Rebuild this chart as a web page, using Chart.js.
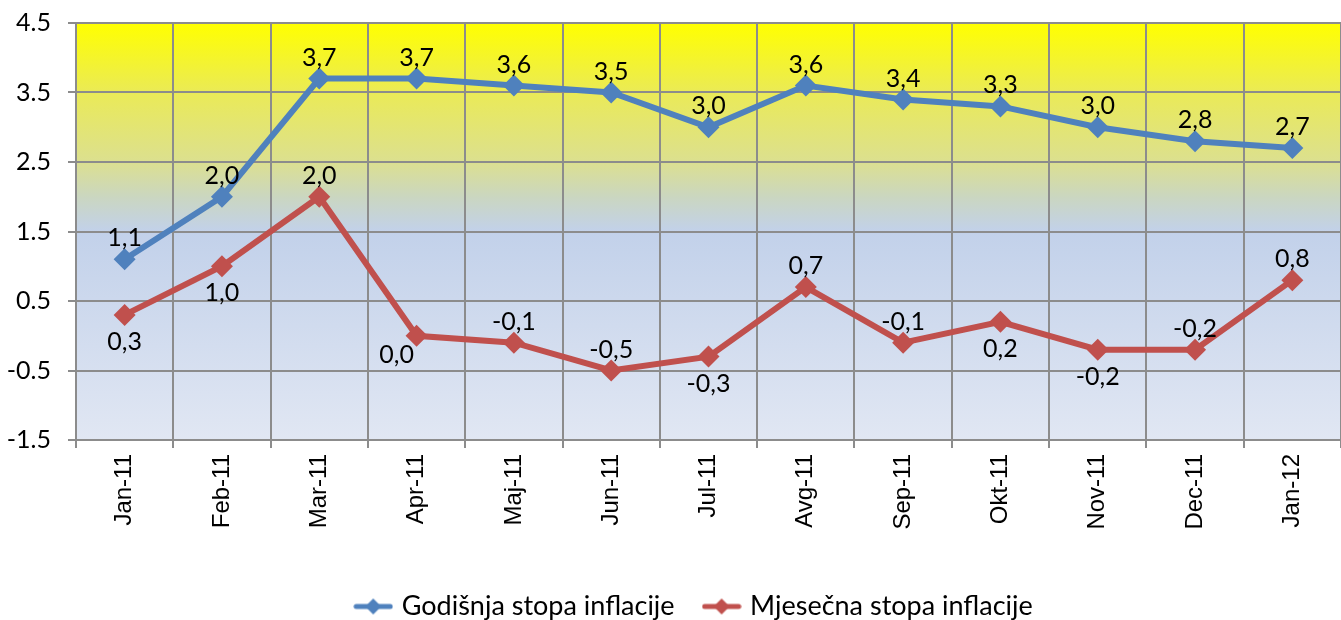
<!DOCTYPE html>
<html>
<head>
<meta charset="utf-8">
<script src="https://cdn.jsdelivr.net/npm/chart.js@4"></script>
<style>
  html, body { margin: 0; padding: 0; background: #fff; }
  #wrap { width: 1341px; height: 620px; }
</style>
</head>
<body>
<div id="wrap"><canvas id="inflacija"></canvas></div>
<script>
// podaci
const months = ["Jan-11", "Feb-11", "Mar-11", "Apr-11", "Maj-11", "Jun-11", "Jul-11",
  "Avg-11", "Sep-11", "Okt-11", "Nov-11", "Dec-11", "Jan-12"];
const godisnja = [1.1, 2.0, 3.7, 3.7, 3.6, 3.5, 3.0, 3.6, 3.4, 3.3, 3.0, 2.8, 2.7];
const mjesecna = [0.3, 1.0, 2.0, 0.0, -0.1, -0.5, -0.3, 0.7, -0.1, 0.2, -0.2, -0.2, 0.8];
const yTicks = [-1.5, -0.5, 0.5, 1.5, 2.5, 3.5, 4.5];

// gdje stoje oznake vrijednosti
const godisnjaPos = months.map(() => "above");
const mjesecnaPos = ["below", "below", "above", "left", "above", "above", "below",
  "above", "above", "below", "below", "above", "above"];

const BLUE = "#4F81BD";
const RED = "#C0504D";
const calibriLike = "Lato, 'Open Sans', sans-serif";

// ikonica za legendu: linija + romb
function legendIcon(color) {
  const c = document.createElement("canvas");
  c.width = 40; c.height = 18;
  const g = c.getContext("2d");
  g.strokeStyle = color;
  g.lineWidth = 5;
  g.lineCap = "round";
  g.beginPath(); g.moveTo(3, 9); g.lineTo(37, 9); g.stroke();
  g.fillStyle = color;
  g.beginPath(); g.moveTo(20, 1); g.lineTo(28, 9); g.lineTo(20, 17); g.lineTo(12, 9); g.closePath(); g.fill();
  return c;
}

// pozadina s prelazom (žuto -> plavo)
const bgPlugin = {
  id: "bgGradient",
  beforeDraw(chart) {
    const { ctx, chartArea: a } = chart;
    const grd = ctx.createLinearGradient(0, a.top, 0, a.bottom);
    grd.addColorStop(0, "#FFFF00");
    grd.addColorStop(0.17, "#EAEA58");
    grd.addColorStop(0.33, "#DCE08E");
    grd.addColorStop(0.42, "#CAD6C2");
    grd.addColorStop(0.5, "#C2D1EA");
    grd.addColorStop(1, "#E1E7F3");
    ctx.save();
    ctx.fillStyle = grd;
    ctx.fillRect(a.left, a.top, a.right - a.left, a.bottom - a.top);
    ctx.restore();
  }
};

// legenda je malo pomjerena udesno i nadolje
const legendShift = {
  id: "legendShift",
  afterLayout(chart) {
    if (chart.legend) {
      chart.legend.left += 25;
      chart.legend.right += 25;
      chart.legend.top += 10;
      chart.legend.bottom += 10;
    }
  }
};

// oznake vrijednosti sa zarezom
const labelsPlugin = {
  id: "valueLabels",
  afterDatasetsDraw(chart) {
    const ctx = chart.ctx;
    const posSets = [godisnjaPos, mjesecnaPos];
    ctx.save();
    ctx.font = "25px " + calibriLike;
    ctx.fillStyle = "#000";
    chart.data.datasets.forEach((ds, i) => {
      const meta = chart.getDatasetMeta(i);
      meta.data.forEach((pt, j) => {
        const txt = ds.data[j].toFixed(1).replace(".", ",");
        const pos = posSets[i][j];
        let x = pt.x, y = pt.y;
        ctx.textAlign = "center";
        ctx.textBaseline = "middle";
        if (pos === "above") y -= 21;
        else if (pos === "below") y += 27;
        else if (pos === "left") { x -= 20; y += 19; }
        ctx.fillText(txt, x, y);
      });
    });
    ctx.restore();
  }
};

const ctx = document.getElementById("inflacija").getContext("2d");

new Chart(ctx, {
  type: "line",
  data: {
    labels: months,
    datasets: [
      {
        label: "Godišnja stopa inflacije",
        data: godisnja,
        borderColor: BLUE,
        backgroundColor: BLUE,
        borderWidth: 6,
        pointStyle: "rectRot",
        pointRadius: 11,
        pointHoverRadius: 11,
        pointBorderWidth: 0,
        tension: 0
      },
      {
        label: "Mjesečna stopa inflacije",
        data: mjesecna,
        borderColor: RED,
        backgroundColor: RED,
        borderWidth: 6,
        pointStyle: "rectRot",
        pointRadius: 11,
        pointHoverRadius: 11,
        pointBorderWidth: 0,
        tension: 0
      }
    ]
  },
  options: {
    responsive: true,
    maintainAspectRatio: false,
    animation: false,
    layout: { autoPadding: false, padding: { top: 23, right: 0, left: 0, bottom: 0 } },
    scales: {
      x: {
        offset: true,
        grid: { offset: true, color: "#8C8C8C", lineWidth: 2, tickLength: 8 },
        border: { color: "#8C8C8C", width: 2 },
        ticks: {
          minRotation: 90,
          maxRotation: 90,
          color: "#000",
          padding: 6,
          font: { family: "'Liberation Sans', Arial, sans-serif", size: 24 }
        },
        afterFit(scale) {
          scale.height = 111;
          scale.paddingLeft = 0;
          scale.paddingRight = 0;
        }
      },
      y: {
        min: -1.5,
        max: 4.5,
        afterBuildTicks(scale) { scale.ticks = yTicks.map(v => ({ value: v })); },
        grid: { color: "#8C8C8C", lineWidth: 2, tickLength: 8 },
        border: { color: "#8C8C8C", width: 2 },
        ticks: {
          color: "#000",
          padding: 17,
          font: { family: calibriLike, size: 25 },
          callback: v => v.toFixed(1)
        },
        afterFit(scale) {
          scale.width = 76;
          scale.paddingTop = 0;
          scale.paddingBottom = 0;
        }
      }
    },
    plugins: {
      legend: {
        display: true,
        position: "bottom",
        labels: {
          usePointStyle: true,
          pointStyleWidth: 30,
          color: "#000",
          padding: 32,
          font: { family: calibriLike, size: 27 },
          generateLabels(chart) {
            return chart.data.datasets.map((ds, i) => ({
              text: ds.label,
              pointStyle: legendIcon(ds.borderColor),
              fillStyle: ds.borderColor,
              strokeStyle: ds.borderColor,
              lineWidth: 0,
              hidden: false,
              datasetIndex: i
            }));
          }
        }
      },
      tooltip: { enabled: false }
    }
  },
  plugins: [bgPlugin, legendShift, labelsPlugin]
});
</script>
</body>
</html>
